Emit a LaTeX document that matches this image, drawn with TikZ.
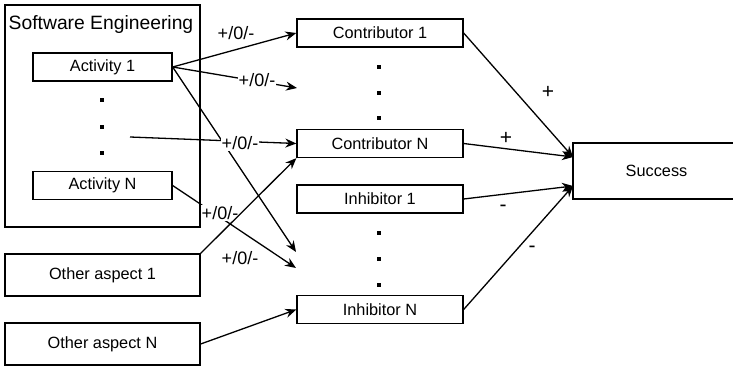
\documentclass[tikz,border=0pt]{standalone}
\usepackage{fontspec}
\setmainfont{Liberation Sans}
\usetikzlibrary{arrows.meta}

\begin{document}
\begin{tikzpicture}[x=1pt, y=-1pt, >={Stealth[length=11pt,width=9pt]}, line width=1.3pt,
  caixa/.style={draw, inner sep=0pt, font=\fontsize{16.3}{18}\selectfont},
  rotulo/.style={fill=white, inner sep=1pt, font=\fontsize{18}{20}\selectfont},
  sinal/.style={inner sep=0pt, font=\fontsize{21}{23}\selectfont},
  ponto/.style={fill, inner sep=0pt, minimum size=4pt}]
    \useasboundingbox (0,0) rectangle (733,366);

    % caixa grande da esquerda
    \node[draw, inner sep=0pt, minimum width=195pt, minimum height=222pt] (se) at (102.5,116) {};
    \node[font=\fontsize{19.3}{21}\selectfont] (setit) at (101,25) {Software Engineering};
    \node[caixa, minimum width=139pt, minimum height=28pt] (act1) at (102.5,67) {Activity 1};
    \node[caixa, minimum width=139pt, minimum height=28pt] (actN) at (102.5,185.5) {Activity N};
    \node[caixa, minimum width=195pt, minimum height=42pt] (oth1) at (102.5,275) {Other aspect 1};
    \node[caixa, minimum width=195pt, minimum height=42pt] (othN) at (102.5,344) {Other aspect N};

    % coluna do meio
    \node[caixa, minimum width=166pt, minimum height=28pt] (con1) at (380,33) {Contributor 1};
    \node[caixa, minimum width=166pt, minimum height=28pt] (conN) at (380,143.5) {Contributor N};
    \node[caixa, minimum width=166pt, minimum height=28pt] (inh1) at (380,199) {Inhibitor 1};
    \node[caixa, minimum width=166pt, minimum height=28pt] (inhN) at (380,309.5) {Inhibitor N};
    \node[caixa, minimum width=167pt, minimum height=56pt] (succ) at (656.5,171) {Success};

    % pontinhos
    \foreach \y in {100,127,153} \node[ponto] (pa\y) at (102,\y) {};
    \foreach \y in {67,93,118} \node[ponto] (pc\y) at (379,\y) {};
    \foreach \y in {233,259,285} \node[ponto] (pi\y) at (379,\y) {};

    \coordinate (meio) at (130,137);
    \coordinate (fim1) at (297,88);
    \coordinate (fim2) at (296,252);
    \coordinate (fim3) at (296,268);
    \coordinate (sIn1) at (573,157);
    \coordinate (sIn2) at (573,186);

    \draw[->] (act1.east) -- (con1.west);
    \draw[->] (act1.east) -- (fim1);
    \draw[->] (act1.east) -- (fim2);
    \draw[->] (meio) -- (conN.west);
    \draw[->] (actN.east) -- (fim3);

    \node[rotulo] (r1) at (236,33) {+/0/-};
    \node[rotulo] (r2) at (257,80) {+/0/-};
    \node[rotulo] (r3) at (240,143) {+/0/-};
    \node[rotulo] (r4) at (220,213) {+/0/-};
    \node[rotulo] (r5) at (240,258) {+/0/-};

    \draw[->] (oth1.north east) -- (conN.south west);
    \draw[->] (othN.east) -- (inhN.west);

    % ligacoes com o sucesso
    \draw[->] (con1.east) -- (sIn1);
    \draw[->] (conN.east) -- (sIn1);
    \draw[->] (inh1.east) -- (sIn2);
    \draw[->] (inhN.east) -- (sIn2);

    \node[sinal] (s1) at (548,92) {+};
    \node[sinal] (s2) at (506,138) {+};
    \node[sinal] (s3) at (503,208) {-};
    \node[sinal] (s4) at (532,249) {-};

\end{tikzpicture}
\end{document}
